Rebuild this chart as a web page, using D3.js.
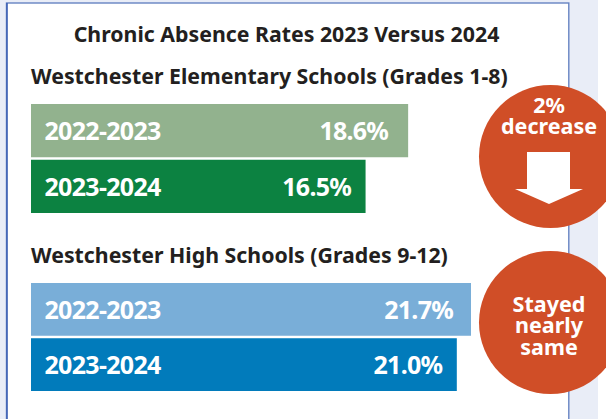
<!DOCTYPE html>
<html><head><meta charset="utf-8">
<script src="https://cdn.jsdelivr.net/npm/d3@7"></script>
<style>html,body{margin:0;padding:0;background:#fff}svg{display:block}text{font-family:"Noto Sans","Open Sans",sans-serif;font-weight:700}</style>
</head><body><div id="chart"></div>
<script>
const years = ["2022-2023","2023-2024"];
const elementaryValues = [18.6,16.5];
const highValues = [21.7,21.0];
const valueLabels = ["18.6%","16.5%","21.7%","21.0%"];
const title = "Chronic Absence Rates 2023 Versus 2024";
const elementaryTitle = "Westchester Elementary Schools (Grades 1-8)";
const highTitle = "Westchester High Schools (Grades 9-12)";
const elementaryColors = ["#92b28e","#0c8241"];
const highColors = ["#79aed8","#017bbb"];
const calloutFill = "#d04e27";
const ink = "#231f20";

const svg = d3.select("#chart").append("svg").attr("width",606).attr("height",419);
svg.append("rect").attr("width",598).attr("height",419).attr("fill","#e9edf7");
svg.append("rect").attr("x",6.5).attr("y",3).attr("width",562.3).attr("height",420)
  .attr("fill","#fff").attr("stroke","#6683c2").attr("stroke-width",1.4);
svg.append("line").attr("x1",7).attr("x2",7).attr("y1",3).attr("y2",419).attr("stroke","#3f62b5").attr("stroke-width",1.6);

const x = d3.scaleLinear().domain([0,21.7]).range([31,471]);

svg.append("text").attr("x",286.5).attr("y",41.5).attr("text-anchor","middle").attr("font-size",21.3).attr("fill",ink).text(title);

function group(head, headY, vals, colors, bandTop, bandBottom, labs, insets){
  svg.append("text").attr("x",31).attr("y",headY).attr("font-size",21.3).attr("fill",ink).text(head);
  const y = d3.scaleBand().domain(years).range([bandTop,bandBottom]).paddingInner(0.045);
  const g = svg.append("g").selectAll("g").data(years).join("g");
  g.append("rect").attr("x",x(0)).attr("y",d=>y(d)).attr("height",y.bandwidth())
    .attr("width",(d,i)=>x(vals[i])-x(0)).attr("fill",(d,i)=>colors[i]);
  g.append("text").attr("x",44.5).attr("y",d=>y(d)+y.bandwidth()/2+9.5).attr("font-size",25).attr("fill","#fff").attr("letter-spacing",-0.7).text(d=>d);
  g.append("text").attr("x",(d,i)=>x(vals[i])-insets[i]).attr("y",d=>y(d)+y.bandwidth()/2+9.5).attr("text-anchor","end")
    .attr("font-size",25).attr("fill","#fff").attr("letter-spacing",-0.75).text((d,i)=>labs[i]);
}
group(elementaryTitle,83.5,elementaryValues,elementaryColors,104,213,valueLabels.slice(0,2),[20,14.5]);
group(highTitle,262.5,highValues,highColors,283,391,valueLabels.slice(2),[18,14.5]);

function circle(cy){svg.append("circle").attr("cx",550.5).attr("cy",cy).attr("r",71.5).attr("fill",calloutFill);}
circle(156.5); circle(322.5);
function lines(arr,y0,dy){arr.forEach((t,i)=>svg.append("text").attr("x",549).attr("y",y0+i*dy).attr("text-anchor","middle").attr("font-size",21.5).attr("fill","#fff").text(t));}
lines(["2%","decrease"],112.5,21.6);
lines(["Stayed","nearly","same"],311.5,21.6);
const arrow = d3.path();
arrow.moveTo(527,152);arrow.lineTo(570,152);arrow.lineTo(570,189);arrow.lineTo(583,189);arrow.lineTo(549,204);arrow.lineTo(515,189);arrow.lineTo(527,189);arrow.closePath();
svg.append("path").attr("d",arrow.toString()).attr("fill","#fff");
</script></body></html>
